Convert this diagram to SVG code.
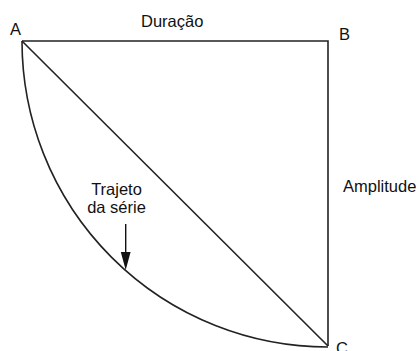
<svg xmlns="http://www.w3.org/2000/svg" width="419" height="351" viewBox="0 0 419 351">
<style>
text{font-family:"Liberation Sans",Arial,sans-serif;font-size:16.5px;fill:#111}
.ln{fill:none;stroke:#222;stroke-width:1.6}
</style>
<defs>
<marker id="ah" markerWidth="10" markerHeight="18" refX="5" refY="18" orient="auto-start-reverse" markerUnits="userSpaceOnUse" viewBox="0 0 10 18">
<path d="M0,0 L10,0 L5,18 Z" fill="#111"/>
</marker>
</defs>
<rect width="419" height="351" fill="#fff"/>
<g id="connectors">
<path class="ln" d="M22,41 H328 V346"/>
<path class="ln" d="M22,41 L328,346"/>
<path class="ln" d="M22,41 A306,306 0 0 0 328,347"/>
<line x1="125.7" y1="224" x2="125.7" y2="252" stroke="#111" stroke-width="1.4"/>
<path d="M120.8,252 L130.6,252 L125.7,270 Z" fill="#111"/>
</g>
<g id="A"><text x="10" y="35">A</text></g>
<g id="B"><text x="339" y="40">B</text></g>
<g id="C"><text x="336" y="354">C</text></g>
<g id="duracao"><text x="141" y="27">Duração</text></g>
<g id="amplitude"><text x="343" y="192">Amplitude</text></g>
<g id="trajeto"><text x="116.5" y="195" text-anchor="middle">Trajeto</text><text x="116.5" y="213" text-anchor="middle">da série</text></g>
</svg>
